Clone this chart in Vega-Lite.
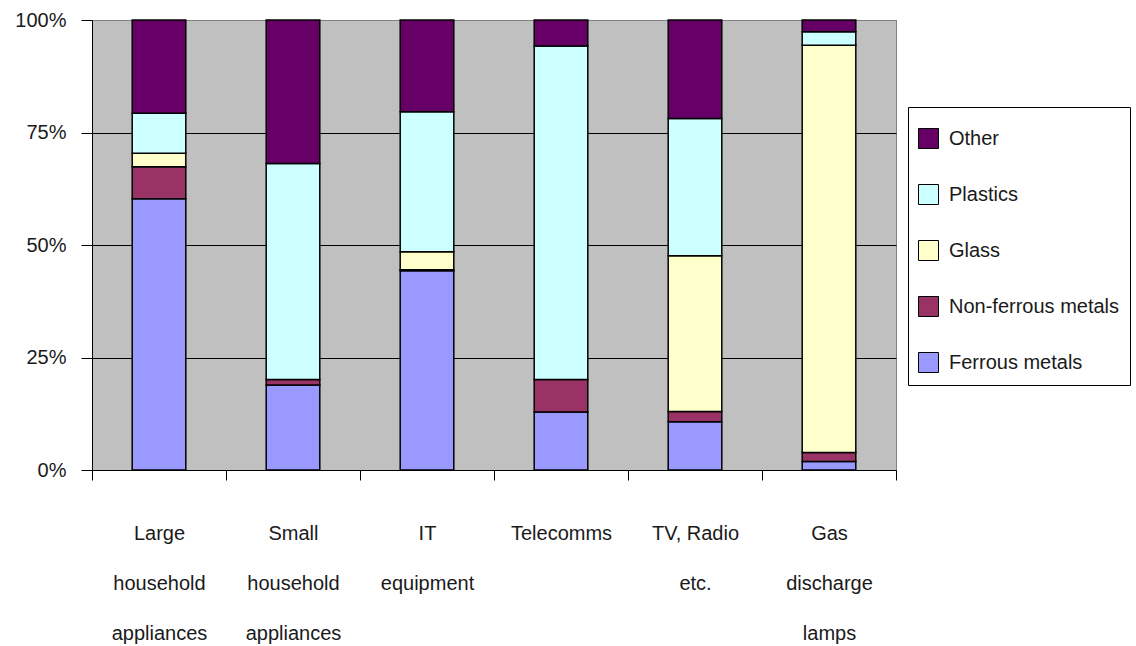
{
  "$schema": "https://vega.github.io/schema/vega-lite/v6.json",
  "autosize": {"type": "none"},
  "width": 804,
  "height": 450,
  "padding": {"left": 92, "top": 20, "right": 240, "bottom": 176},
  "background": "#ffffff",
  "config": {
    "font": "Liberation Sans",
    "view": {"fill": "#c0c0c0", "stroke": "#808080", "strokeWidth": 1}
  },
  "data": {
    "values": [
      {"category": "Large|household|appliances", "material": "Ferrous metals", "share": 60.3},
      {"category": "Large|household|appliances", "material": "Non-ferrous metals", "share": 7.1},
      {"category": "Large|household|appliances", "material": "Glass", "share": 3.0},
      {"category": "Large|household|appliances", "material": "Plastics", "share": 8.9},
      {"category": "Large|household|appliances", "material": "Other", "share": 20.7},

      {"category": "Small|household|appliances", "material": "Ferrous metals", "share": 18.9},
      {"category": "Small|household|appliances", "material": "Non-ferrous metals", "share": 1.2},
      {"category": "Small|household|appliances", "material": "Plastics", "share": 48.0},
      {"category": "Small|household|appliances", "material": "Other", "share": 31.9},

      {"category": "IT|equipment", "material": "Ferrous metals", "share": 44.3},
      {"category": "IT|equipment", "material": "Non-ferrous metals", "share": 0.2},
      {"category": "IT|equipment", "material": "Glass", "share": 4.0},
      {"category": "IT|equipment", "material": "Plastics", "share": 31.1},
      {"category": "IT|equipment", "material": "Other", "share": 20.4},

      {"category": "Telecomms", "material": "Ferrous metals", "share": 12.9},
      {"category": "Telecomms", "material": "Non-ferrous metals", "share": 7.2},
      {"category": "Telecomms", "material": "Plastics", "share": 74.1},
      {"category": "Telecomms", "material": "Other", "share": 5.8},

      {"category": "TV, Radio|etc.", "material": "Ferrous metals", "share": 10.7},
      {"category": "TV, Radio|etc.", "material": "Non-ferrous metals", "share": 2.3},
      {"category": "TV, Radio|etc.", "material": "Glass", "share": 34.6},
      {"category": "TV, Radio|etc.", "material": "Plastics", "share": 30.5},
      {"category": "TV, Radio|etc.", "material": "Other", "share": 21.9},

      {"category": "Gas|discharge|lamps", "material": "Ferrous metals", "share": 1.9},
      {"category": "Gas|discharge|lamps", "material": "Non-ferrous metals", "share": 2.0},
      {"category": "Gas|discharge|lamps", "material": "Glass", "share": 90.5},
      {"category": "Gas|discharge|lamps", "material": "Plastics", "share": 3.0},
      {"category": "Gas|discharge|lamps", "material": "Other", "share": 2.6}
    ]
  },
  "transform": [
    {
      "calculate": "indexof(['Ferrous metals','Non-ferrous metals','Glass','Plastics','Other'], datum.material)",
      "as": "stackOrder"
    }
  ],
  "mark": {"type": "bar", "width": {"band": 0.4}, "stroke": "#000000", "strokeWidth": 1.5},
  "encoding": {
    "x": {
      "field": "category",
      "type": "nominal",
      "sort": null,
      "scale": {"paddingInner": 0, "paddingOuter": 0},
      "axis": {
        "title": null,
        "labelAngle": 0,
        "labelExpr": "split(datum.label, '|')",
        "labelFontSize": 20,
        "labelColor": "#1a1a1a",
        "labelLineHeight": 50,
        "labelBaseline": "top",
        "labelPadding": 43,
        "labelLimit": 200,
        "tickBand": "extent",
        "tickSize": 10,
        "tickColor": "#000000",
        "domainColor": "#000000",
        "grid": false
      }
    },
    "y": {
      "field": "share",
      "type": "quantitative",
      "stack": "normalize",
      "scale": {"domain": [0, 1], "nice": false},
      "axis": {
        "title": null,
        "values": [0, 0.25, 0.5, 0.75, 1],
        "format": ".0%",
        "labelFontSize": 20,
        "labelColor": "#1a1a1a",
        "labelPadding": 15,
        "tickSize": 11,
        "tickColor": "#000000",
        "domainColor": "#000000",
        "grid": true,
        "gridColor": {"condition": {"test": "datum.value === 1", "value": "#808080"}, "value": "#000000"},
        "gridOpacity": 1,
        "gridWidth": 1
      }
    },
    "color": {
      "field": "material",
      "type": "nominal",
      "scale": {
        "domain": ["Other", "Plastics", "Glass", "Non-ferrous metals", "Ferrous metals"],
        "range": ["#660066", "#ccffff", "#ffffcc", "#993366", "#9999ff"]
      },
      "legend": {
        "orient": "none",
        "legendX": 816,
        "legendY": 87,
        "title": " ",
        "titleFontSize": 6,
        "titlePadding": 5,
        "padding": 10,
        "fillColor": "#ffffff",
        "strokeColor": "#000000",
        "symbolType": "square",
        "symbolSize": 400,
        "symbolStrokeColor": "#000000",
        "symbolStrokeWidth": 1,
        "symbolOpacity": 1,
        "labelFontSize": 20,
        "labelColor": "#1a1a1a",
        "labelOffset": 10,
        "labelLimit": 300,
        "rowPadding": 31
      }
    },
    "order": {"field": "stackOrder", "type": "quantitative"}
  }
}
